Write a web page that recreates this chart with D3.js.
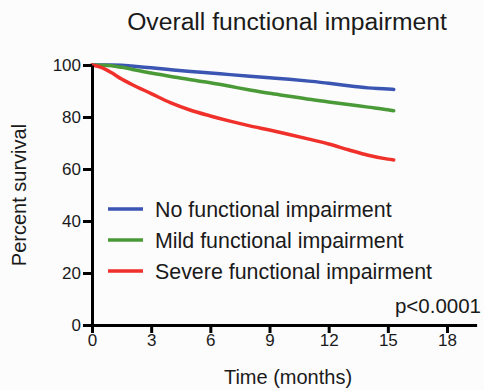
<!DOCTYPE html>
<html><head><meta charset="utf-8">
<script src="https://cdn.jsdelivr.net/npm/d3@7"></script>
<style>
html,body{margin:0;padding:0;background:#fcfcfc;}
svg text{font-family:"Liberation Sans",Arial,sans-serif;fill:#1a1a1a;}
</style></head>
<body><svg id="c" width="484" height="390"></svg>
<script>
const months   = [0, 0.5, 1, 1.5, 2, 3, 4, 5, 6, 7, 8, 9, 10, 11, 12, 13, 14, 15, 15.3];
const noImp    = [100, 100, 100, 99.9, 99.6, 98.9, 98.2, 97.5, 96.9, 96.3, 95.7, 95.1, 94.5, 93.8, 93.0, 92.0, 91.2, 90.8, 90.6];
const mildImp  = [100, 99.9, 99.7, 99.1, 98.4, 96.9, 95.6, 94.3, 93.2, 91.8, 90.4, 89.1, 88.0, 86.8, 85.8, 84.8, 83.8, 82.8, 82.4];
const sevImp   = [100, 99.0, 97.0, 94.6, 92.6, 89.0, 85.4, 82.6, 80.4, 78.4, 76.6, 75.0, 73.3, 71.5, 69.6, 67.4, 65.3, 63.8, 63.5];
const seriesNames = ["No functional impairment", "Mild functional impairment", "Severe functional impairment"];
const seriesColors = ["#3b55b3", "#4a9a38", "#f0302a"];
const xTicks = [0, 3, 6, 9, 12, 15, 18];
const yTicks = [0, 20, 40, 60, 80, 100];

const svg = d3.select("#c");
const x = d3.scaleLinear().domain([0, 19.5]).range([92, 476.6]);
const y = d3.scaleLinear().domain([0, 100]).range([325, 65]);

// title
svg.append("text").attr("x", 287).attr("y", 30).attr("text-anchor", "middle")
  .style("font-size", "24.7px").text("Overall functional impairment");

// curves
const allSeries = [noImp, mildImp, sevImp];
const line = d3.line().x(d => x(d[0])).y(d => y(d[1])).curve(d3.curveMonotoneX);
allSeries.forEach((s, i) => {
  svg.append("path").datum(months.map((m, j) => [m, s[j]]))
    .attr("d", line).attr("fill", "none").attr("stroke", seriesColors[i])
    .attr("stroke-width", 3.5).attr("stroke-linejoin", "round").attr("stroke-linecap", "round");
});

// axes
const xAxis = svg.append("g").attr("transform", "translate(0,325)")
  .call(d3.axisBottom(x).tickValues(xTicks).tickSize(8).tickPadding(1).tickSizeOuter(0));
const yAxis = svg.append("g").attr("transform", "translate(92,0)")
  .call(d3.axisLeft(y).tickValues(yTicks).tickSize(9).tickPadding(2).tickSizeOuter(0));
[xAxis, yAxis].forEach(a => {
  a.select(".domain").attr("stroke", "#000").attr("stroke-width", 3);
  a.selectAll(".tick line").attr("stroke", "#000").attr("stroke-width", 3);
  a.selectAll(".tick text").style("font-size", "17px").attr("fill", "#1a1a1a")
    .style("font-family", "'Liberation Sans',Arial,sans-serif");
});

// axis titles
svg.append("text").attr("x", 288).attr("y", 384).attr("text-anchor", "middle")
  .style("font-size", "20px").text("Time (months)");
svg.append("text").attr("transform", "translate(26,195) rotate(-90)").attr("text-anchor", "middle")
  .style("font-size", "20px").text("Percent survival");

// legend
const lg = svg.append("g");
seriesNames.forEach((n, i) => {
  const yy = 209 + i * 31;
  lg.append("line").attr("x1", 108).attr("x2", 143).attr("y1", yy).attr("y2", yy)
    .attr("stroke", seriesColors[i]).attr("stroke-width", 3.5);
  lg.append("text").attr("x", 155).attr("y", yy + 7.5).style("font-size", "21.4px").text(n);
});

// p value
svg.append("text").attr("x", 481).attr("y", 313).attr("text-anchor", "end")
  .style("font-size", "20.5px").text("p<0.0001");
</script></body></html>
